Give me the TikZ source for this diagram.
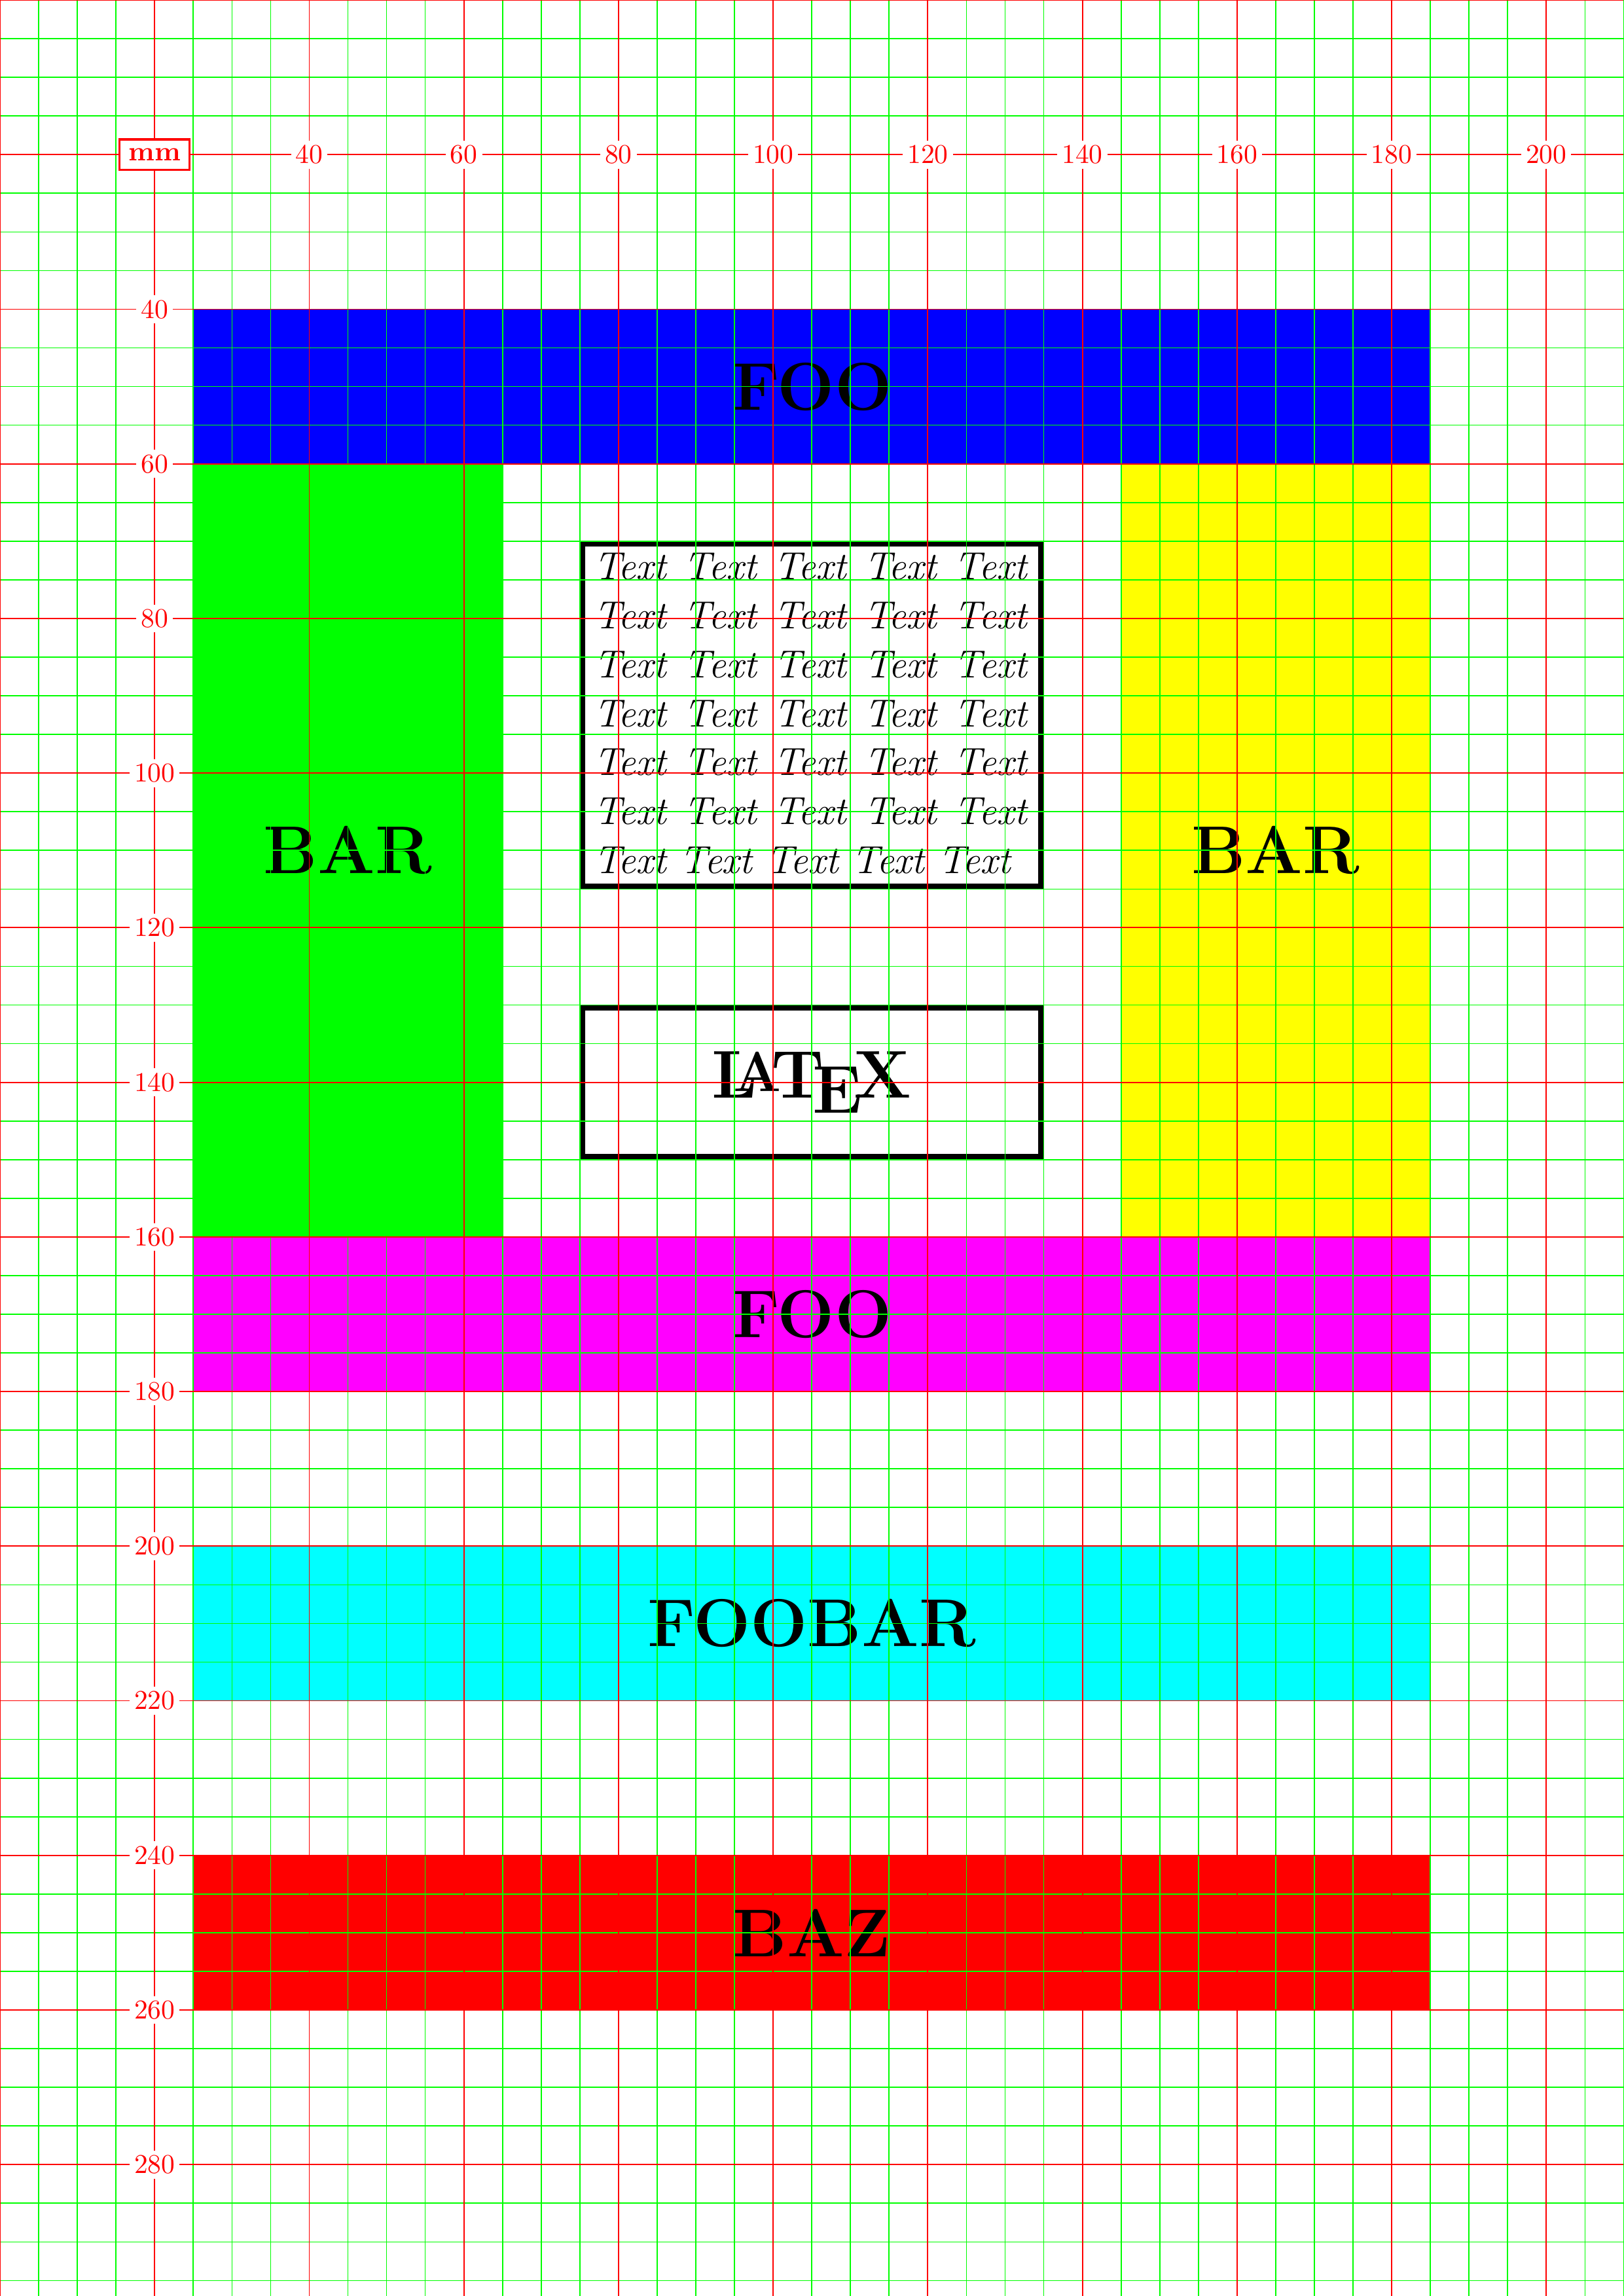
\documentclass[tikz,border=0pt]{standalone}
\definecolor{fullblue}{RGB}{0,0,255}
\definecolor{fullgreen}{RGB}{0,255,0}
\definecolor{fullyellow}{RGB}{255,255,0}
\definecolor{fullmagenta}{RGB}{255,0,255}
\definecolor{fullcyan}{RGB}{0,255,255}
\definecolor{fullred}{RGB}{255,0,0}
\begin{document}
\begin{tikzpicture}[x=1mm,y=-1mm,
  blk/.style={minimum width=160mm, minimum height=20mm, inner sep=0pt, outer sep=0pt, font=\Huge\bfseries},
  boxframe/.style={draw=black, line width=2pt, inner sep=0pt, outer sep=0pt, minimum width=60mm-2pt},
  gridg/.style={fullgreen, line width=0.4pt},
  gridr/.style={fullred, line width=0.45pt},
  lbl/.style={fill=white, text=fullred, inner sep=1.7pt, font=\normalsize}]
\useasboundingbox (0,0) rectangle (210,297);
\fill[white] (0,0) rectangle (210,297);
% coloured blocks
\node[blk, fill=fullblue] (foo1) at (105,50) {FOO};
\node[blk, fill=fullgreen, minimum width=40mm, minimum height=100mm] (bar1) at (45,110) {BAR};
\node[blk, fill=fullyellow, minimum width=40mm, minimum height=100mm] (bar2) at (165,110) {BAR};
\node[blk, fill=fullmagenta] (foo2) at (105,170) {FOO};
\node[blk, fill=fullcyan] (foobar) at (105,210) {FOOBAR};
\node[blk, fill=fullred] (baz) at (105,250) {BAZ};
% framed text
\node[boxframe, minimum height=45mm-2pt] (txtframe) at (105,92.5) {};
\node[anchor=base, text width=56.0mm, align=justify, inner sep=0pt, font=\fontsize{14.4}{18}\selectfont\itshape] (txt) at (104.8,75)
  {Text Text Text Text Text Text Text Text Text Text Text Text Text Text Text Text Text Text Text Text Text Text Text Text Text Text Text Text Text Text Text Text Text Text Text};
\node[boxframe, minimum height=20mm-2pt, font=\Huge\bfseries] (latex) at (105,140) {\LaTeX};
% grid
\foreach \v in {0,5,...,210} \draw[gridg] (\v,0) -- (\v,297);
\foreach \v in {0,5,...,295} \draw[gridg] (0,\v) -- (210,\v);
\foreach \v in {0,20,...,200} \draw[gridr] (\v,0) -- (\v,297);
\foreach \v in {0,20,...,280} \draw[gridr] (0,\v) -- (210,\v);
% labels
\node[draw=fullred, line width=0.8pt, fill=white, text=fullred, font=\bfseries] (mm) at (20,20) {mm};
\foreach \v in {40,60,...,200} \node[lbl] (xl\v) at (\v,20) {\v};
\foreach \v in {40,60,...,280} \node[lbl] (yl\v) at (20,\v) {\v};
\end{tikzpicture}
\end{document}
